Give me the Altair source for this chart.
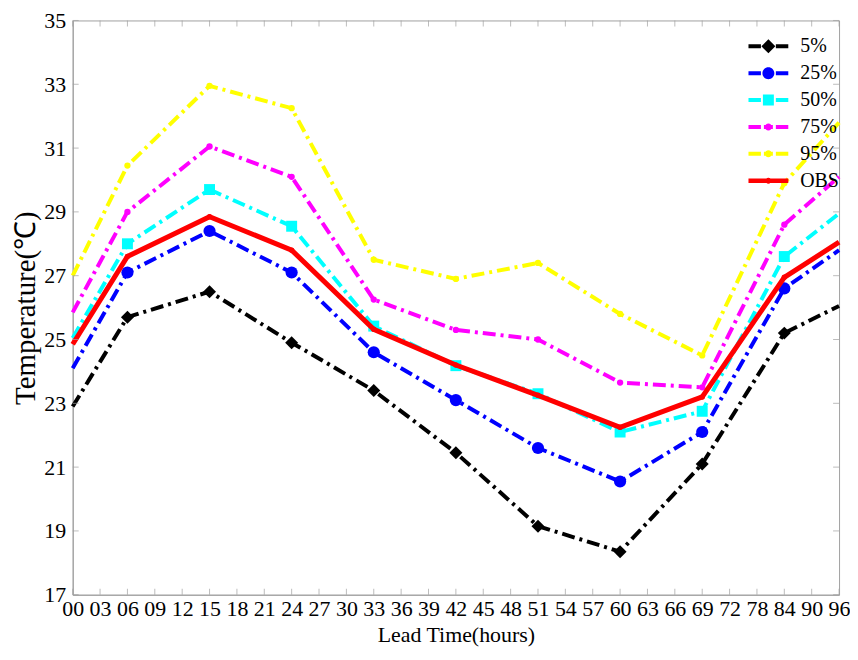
import altair as alt
import pandas as pd

# ---------------- data ----------------
tick_labels = ["00", "03", "06", "09", "12", "15", "18", "21", "24", "27", "30", "33", "36", "39",
               "42", "45", "48", "51", "54", "57", "60", "63", "66", "69", "72", "78", "84", "90", "96"]
hours = ["00", "06", "15", "24", "33", "42", "51", "60", "69", "84", "96"]

p05 = [22.9, 25.7, 26.5, 24.9, 23.4, 21.45, 19.15, 18.35, 21.1, 25.2, 26.05]
p25 = [24.1, 27.1, 28.4, 27.1, 24.6, 23.1, 21.6, 20.55, 22.1, 26.6, 27.8]
p50 = [25.05, 28.0, 29.7, 28.55, 25.42, 24.18, 23.3, 22.1, 22.75, 27.6, 28.95]
p75 = [25.85, 29.0, 31.05, 30.1, 26.25, 25.3, 25.0, 23.65, 23.5, 28.6, 30.1]
p95 = [27.0, 30.45, 32.95, 32.25, 27.5, 26.9, 27.4, 25.8, 24.5, 29.9, 31.8]
obs = [24.85, 27.6, 28.85, 27.8, 25.32, 24.2, 23.25, 22.25, 23.2, 26.95, 28.05]

series_names = ["5%", "25%", "50%", "75%", "95%", "OBS"]
series_values = [p05, p25, p50, p75, p95, obs]
series_colors = ["#000000", "#0000ff", "#00ffff", "#ff00ff", "#ffff00", "#ff0000"]
y_ticks = [17, 19, 21, 23, 25, 27, 29, 31, 33, 35]

# ---------------- styles ----------------
FONT = "Liberation Serif"
GRAY = "#a0a0a0"
DASHDOT = [13, 5, 3, 5]
marker_shape = ["diamond", "circle", "square", "circle", "circle", "circle"]
marker_size = [170, 150, 121, 40, 40, 30]
line_dash = [DASHDOT, DASHDOT, DASHDOT, DASHDOT, DASHDOT, None]

# legend symbols: line segment(s) + marker, unit coordinates (scaled by sqrt(size)/2)
seg_dd = "M-2,-0.2H-0.75V0.2H-2Z M-0.45,-0.2H0.45V0.2H-0.45Z M0.75,-0.2H2V0.2H0.75Z"
seg_solid = "M-2,-0.22H2V0.22H-2Z"
diamond = "M0,-0.7L0.7,0L0,0.7L-0.7,0Z"
def circ(r):
    return f"M{r},0A{r},{r},0,1,1,-{r},0A{r},{r},0,1,1,{r},0Z"
square = "M-0.55,-0.55H0.55V0.55H-0.55Z"
legend_paths = [
    seg_dd + " " + diamond,
    seg_dd + " " + circ(0.6),
    seg_dd + " " + square,
    seg_dd + " " + circ(0.35),
    seg_dd + " " + circ(0.35),
    seg_solid + " " + circ(0.3),
]

rows = []
for name, vals in zip(series_names, series_values):
    for h, v in zip(hours, vals):
        rows.append({"hour": h, "temp": v, "series": name})
df = pd.DataFrame(rows)

x_scale = alt.Scale(domain=tick_labels, type="point", padding=0)
y_scale = alt.Scale(domain=[17, 35], nice=False, zero=False)

x_enc = alt.X("hour:O", scale=x_scale, sort=tick_labels,
              axis=alt.Axis(title="Lead Time(hours)", labelAngle=0, labelOverlap=False,
                            ticks=False, labelPadding=4, titlePadding=5,
                            titleFontSize=22))
y_enc = alt.Y("temp:Q", scale=y_scale,
              axis=alt.Axis(title="Temperature(℃)", values=y_ticks, ticks=False,
                            labelPadding=7, titlePadding=3, titleFontSize=29))

layers = []
interior = hours[1:-1]
for name, color, dash, shp, sz in zip(series_names, series_colors, line_dash,
                                      marker_shape, marker_size):
    base = alt.Chart(df).transform_filter(alt.datum.series == name)
    line_kwargs = dict(color=color, strokeWidth=5 if name == "OBS" else 4, strokeCap="butt")
    if dash is not None:
        line_kwargs["strokeDash"] = dash
    layers.append(base.mark_line(**line_kwargs).encode(x=x_enc, y=y_enc))
    layers.append(
        base.transform_filter(alt.FieldOneOfPredicate(field="hour", oneOf=interior))
        .mark_point(filled=True, opacity=1, color=color, shape=shp, size=sz)
        .encode(x=x_enc, y=y_enc)
    )

# inward tick marks on all four sides
xt_bottom = pd.DataFrame({"hour": tick_labels, "temp": [y_ticks[0]] * len(tick_labels)})
xt_top = pd.DataFrame({"hour": tick_labels, "temp": [y_ticks[-1]] * len(tick_labels)})
yt_left = pd.DataFrame({"hour": [tick_labels[0]] * len(y_ticks), "temp": y_ticks})
yt_right = pd.DataFrame({"hour": [tick_labels[-1]] * len(y_ticks), "temp": y_ticks})

layers.append(alt.Chart(xt_bottom).mark_tick(orient="vertical", size=6, thickness=1,
                                             yOffset=-3, color=GRAY).encode(x=x_enc, y=y_enc))
layers.append(alt.Chart(xt_top).mark_tick(orient="vertical", size=6, thickness=1,
                                          yOffset=3, color=GRAY).encode(x=x_enc, y=y_enc))
layers.append(alt.Chart(yt_left).mark_tick(orient="horizontal", size=6, thickness=1,
                                           xOffset=3, color=GRAY).encode(x=x_enc, y=y_enc))
layers.append(alt.Chart(yt_right).mark_tick(orient="horizontal", size=6, thickness=1,
                                            xOffset=-3, color=GRAY).encode(x=x_enc, y=y_enc))

# legend-only layer (draws nothing, scales have explicit domains)
legend_props = dict(title=None, orient="none", legendX=689, legendY=16,
                    symbolSize=400, symbolStrokeWidth=0, symbolOpacity=1,
                    labelOffset=22, padding=0, rowPadding=7, labelFont=FONT,
                    labelFontSize=20, labelColor="black")
legend_layer = (
    alt.Chart(df)
    .transform_filter("false")
    .mark_point(filled=True, opacity=1, size=400)
    .encode(
        x=x_enc, y=y_enc,
        color=alt.Color("series:N",
                        scale=alt.Scale(domain=series_names, range=series_colors),
                        legend=alt.Legend(**legend_props)),
        shape=alt.Shape("series:N",
                        scale=alt.Scale(domain=series_names, range=legend_paths),
                        legend=alt.Legend(**legend_props)),
    )
)
layers.append(legend_layer)

chart = (
    alt.layer(*layers)
    .properties(width=770, height=577, padding={"left": 4, "top": 0, "right": 0, "bottom": 0},
                background="white")
    .configure_view(stroke=GRAY, strokeWidth=1)
    .configure_axis(labelFont=FONT, labelFontSize=22, labelColor="black",
                    titleFont=FONT, titleColor="black", titleFontWeight="normal",
                    domainColor=GRAY, grid=False)
)

chart.save("out.html", embed_options={"renderer": "svg", "actions": False})
